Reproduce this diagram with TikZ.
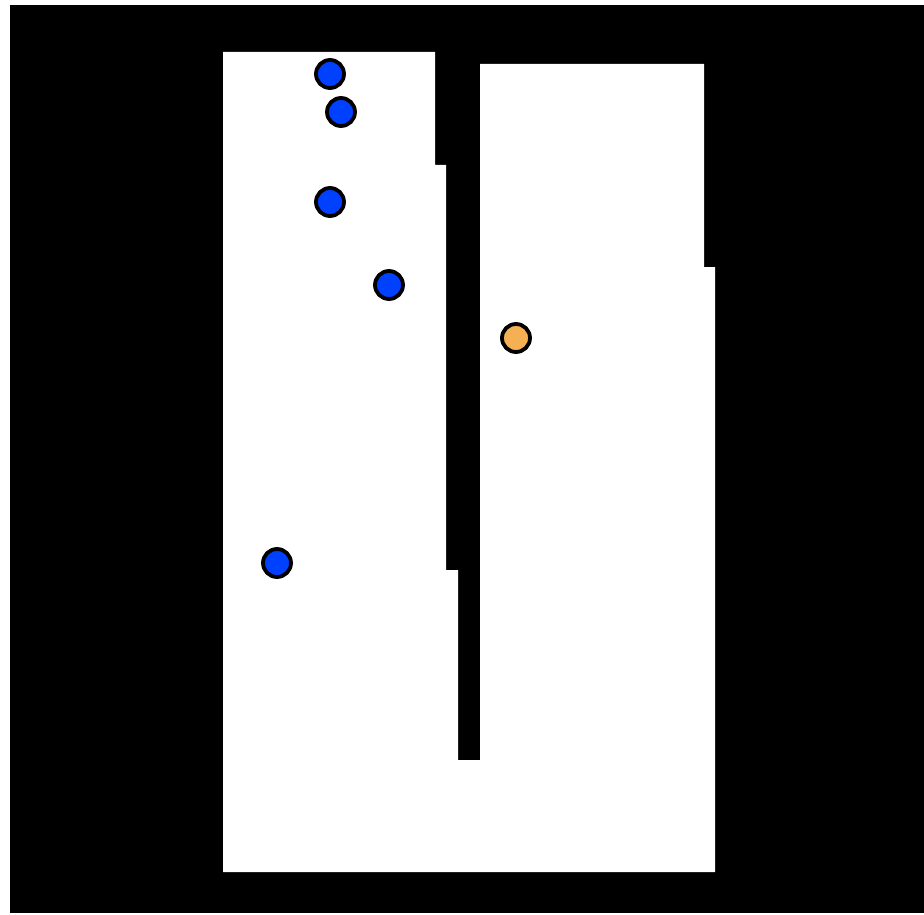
\documentclass[tikz,border=0pt]{standalone}
\definecolor{dotblue}{RGB}{0,64,255}
\definecolor{dotorange}{RGB}{244,176,82}
\tikzset{
  dot/.style={circle, draw=black, line width=3.8pt, minimum size=28pt, inner sep=0pt},
  bluedot/.style={dot, fill=dotblue},
  orangedot/.style={dot, fill=dotorange}
}
\begin{document}
\begin{tikzpicture}[x=1pt,y=-1pt]
\useasboundingbox (0,0) rectangle (924,915);
\fill[white] (0,0) rectangle (924,915);
\fill[black] (10,5) rectangle (924,913);
\fill[white] (223,52) -- (435,52) -- (435,165) -- (446,165) -- (446,570) -- (458,570)
  -- (458,760) -- (480,760) -- (480,64) -- (704,64) -- (704,267) -- (715,267)
  -- (715,872) -- (223,872) -- cycle;
\node[bluedot] (b1) at (330,74) {};
\node[bluedot] (b2) at (341,112) {};
\node[bluedot] (b3) at (330,202) {};
\node[bluedot] (b4) at (389,285) {};
\node[bluedot] (b5) at (277,563) {};
\node[orangedot] (o1) at (516,338) {};
\end{tikzpicture}
\end{document}
